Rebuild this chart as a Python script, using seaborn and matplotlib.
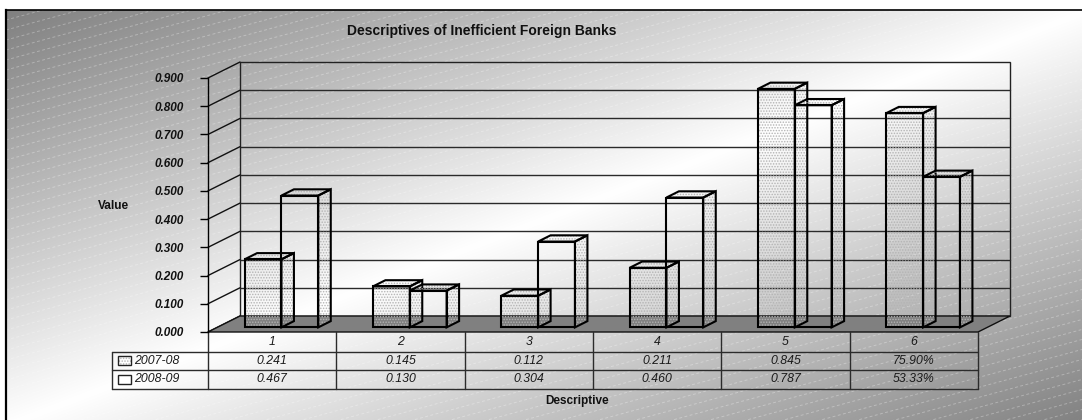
import numpy as np
import pandas as pd
import matplotlib
matplotlib.use("Agg")
import matplotlib.pyplot as plt
import seaborn as sns
from matplotlib.patches import Polygon, Rectangle
from matplotlib.collections import LineCollection
from matplotlib.transforms import ScaledTranslation

# ---- data -------------------------------------------------------------
title = "Descriptives of Inefficient Foreign Banks"
categories = ["1", "2", "3", "4", "5", "6"]
series_names = ["2007-08", "2008-09"]
values_0708 = [0.241, 0.145, 0.112, 0.211, 0.845, 0.759]
values_0809 = [0.467, 0.130, 0.304, 0.460, 0.787, 0.5333]
cell_formats = ["{:.3f}"] * 5 + ["{:.2%}"]
y_ticks = [0.0, 0.1, 0.2, 0.3, 0.4, 0.5, 0.6, 0.7, 0.8, 0.9]
x_label = "Descriptive"
y_label = "Value"

df = pd.DataFrame({
    "Descriptive": categories * 2,
    "Value": values_0708 + values_0809,
    "Year": [series_names[0]] * len(categories) + [series_names[1]] * len(categories),
})

# ---- style ------------------------------------------------------------
sns.set_theme(style="white")
plt.rcParams["font.family"] = ["Liberation Sans", "DejaVu Sans"]
plt.rcParams["hatch.linewidth"] = 0.7

W, H = 1082, 420
fig = plt.figure(figsize=(W / 100, H / 100), dpi=100)

# ---- chart-area background: diagonal grey/white/grey gradient ---------
bg = fig.add_axes([0, 0, 1, 1], zorder=0)
bg.set_xlim(0, W)
bg.set_ylim(H, 0)
bg.axis("off")
cx0, cy0, cx1, cy1 = 6, 10, W + 8, H + 6
xx, yy = np.meshgrid(np.arange(W) + 0.5, np.arange(H) + 0.5)
t = ((xx - cx0) / (cx1 - cx0) + (yy - cy0) / (cy1 - cy0)) / 2
g = 1 - 0.50 * np.abs(2 * t - 1)
g[: cy0, :] = 1
g[:, : cx0] = 1
bg.imshow(np.dstack([g, g, g]), extent=(0, W, H, 0), interpolation="bilinear",
          aspect="auto", zorder=0)

# faint diagonal texture lines
segs = []
for y0 in np.arange(cy0, H + 0.3 * W + 40, 10):
    segs.append([(cx0, y0), (W, y0 - 0.27 * (W - cx0))])
stripes = LineCollection(segs, colors="white", linewidths=0.7, alpha=0.3,
                         linestyles=[(0, (3, 2.5))], zorder=1)
stripes.set_clip_path(Rectangle((cx0, cy0), W, H, transform=bg.transData))
bg.add_collection(stripes)

# chart-area frame
bg.plot([cx0, cx0], [H + 5, cy0], color="black", lw=1.6, zorder=2,
        solid_capstyle="projecting")
bg.plot([cx0, W + 5], [cy0, cy0], color="black", lw=1.2, zorder=2,
        solid_capstyle="projecting")

# ---- plot area (front plane of the 3-D box) ---------------------------
L, R, T, B = 208, 978, 78, 332
ax = fig.add_axes([L / W, 1 - B / H, (R - L) / W, (B - T) / H], zorder=2)
ax.patch.set_alpha(0)

sns.barplot(data=df, x="Descriptive", y="Value", hue="Year",
            hue_order=series_names, order=categories, palette=["white", "white"],
            width=0.574, errorbar=None, legend=False, saturation=1, ax=ax)
ax.set_xlim(-0.5, len(categories) - 0.5)
ax.set_ylim(y_ticks[0], y_ticks[-1])
ax.set_xlabel("")
ax.set_ylabel("")
ax.set_xticks([])
ax.set_yticks(y_ticks)
ax.set_yticklabels([f"{v:.3f}" for v in y_ticks], fontsize=8.5,
                   fontweight="bold", fontstyle="italic")
ax.tick_params(axis="y", left=True, direction="out", length=5.8, width=1,
               color="black", pad=11.5, labelcolor="#111111")
for side in ["top", "right", "bottom"]:
    ax.spines[side].set_visible(False)
ax.spines["left"].set_color("black")
ax.spines["left"].set_linewidth(1.0)

# depth of the 3-D box in display pixels (right, up)
DX, DY = 32, 16
F0, F1 = 0.29, 0.68   # front and back depth of the columns

to_fig = fig.transFigure.inverted()


def px(x, y, depth=0.0):
    """Data point pushed back into the box, in figure fraction."""
    d = ax.transData.transform((x, y)) + np.array([depth * DX, depth * DY])
    return to_fig.transform(d)


def poly(pts, **kw):
    p = Polygon(pts, closed=True, transform=fig.transFigure, clip_on=False, **kw)
    ax.add_patch(p)
    return p


def seg(p0, p1, **kw):
    ax.add_line(plt.Line2D([p0[0], p1[0]], [p0[1], p1[1]],
                           transform=fig.transFigure, clip_on=False, **kw))


xmin, xmax = ax.get_xlim()
ymin, ymax = ax.get_ylim()

# back wall with gridlines
poly([px(xmin, ymin, 1), px(xmax, ymin, 1), px(xmax, ymax, 1), px(xmin, ymax, 1)],
     fill=False, edgecolor="#222222", lw=1.0, zorder=0.5)
for v in y_ticks[1:-1]:
    seg(px(xmin, v, 1), px(xmax, v, 1), color="#2a2a2a", lw=1.0, zorder=0.5)
# side wall lines
for v in y_ticks:
    seg(px(xmin, v, 0), px(xmin, v, 1), color="#111111", lw=1.0, zorder=0.6)

# floor
poly([px(xmin, ymin, 0), px(xmax, ymin, 0), px(xmax, ymin, 1), px(xmin, ymin, 1)],
     facecolor="#808080", edgecolor="#111111", lw=1.0, zorder=0.8)

# columns: seaborn bars become the front faces, side and top are added
shift = ScaledTranslation(F0 * DX / 100, F0 * DY / 100, fig.dpi_scale_trans)
dot_col = "#b4b4b4"
for si, cont in enumerate(ax.containers):
    for bar in cont:
        x, w, h = bar.get_x(), bar.get_width(), bar.get_height()
        bar.set_transform(ax.transData + shift)
        bar.set_clip_on(False)
        bar.set_facecolor("none")
        bar.set_zorder(3 + si)
        if si == 0:
            bar.set_edgecolor(dot_col)
            bar.set_hatch("......")
            bar.set_linewidth(0)
        else:
            bar.set_visible(False)
        outline = Rectangle((x, 0), w, h, transform=ax.transData + shift,
                            fill=False, edgecolor="black", lw=1.5,
                            clip_on=False, zorder=3.5 + si)
        ax.add_patch(outline)
        side = [px(x + w, 0, F0), px(x + w, h, F0), px(x + w, h, F1), px(x + w, 0, F1)]
        top = [px(x, h, F0), px(x + w, h, F0), px(x + w, h, F1), px(x, h, F1)]
        for face in (side, top):
            poly(face, facecolor="none", edgecolor=dot_col, hatch="......",
                 lw=0, zorder=3 + si)
            poly(face, fill=False, edgecolor="black", lw=1.5, zorder=3.5 + si,
                 joinstyle="miter")

# ---- data table under the floor ---------------------------------------
def fy(y_img):
    return 1 - y_img / H


def fxp(x_img):
    return x_img / W


rows = [332, 351.5, 370, 389]
leg_left = 112
tab_col = "#2b2b2b"
x_edges = [px(xmin + k, 0)[0] for k in range(len(categories) + 1)]
for xe in x_edges:
    seg((xe, fy(rows[0])), (xe, fy(rows[-1])), color=tab_col, lw=1.0, zorder=2)
for ry in rows[1:]:
    seg((fxp(leg_left), fy(ry)), (x_edges[-1], fy(ry)), color=tab_col, lw=1.0, zorder=2)
seg((fxp(leg_left), fy(rows[1])), (fxp(leg_left), fy(rows[-1])), color=tab_col,
    lw=1.0, zorder=2)

txt_kw = dict(fontsize=8.8, fontstyle="italic", color="#1a1a1a",
              ha="center", va="center", transform=fig.transFigure)
for k, cat in enumerate(categories):
    xc = px(k, 0)[0]
    fig.text(xc, fy((rows[0] + rows[1]) / 2), cat, **txt_kw)
    fig.text(xc, fy((rows[1] + rows[2]) / 2), cell_formats[k].format(values_0708[k]), **txt_kw)
    fig.text(xc, fy((rows[2] + rows[3]) / 2), cell_formats[k].format(values_0809[k]), **txt_kw)

# legend keys inside the table
for si, name in enumerate(series_names):
    yc = (rows[1 + si] + rows[2 + si]) / 2
    key = Rectangle((fxp(118), fy(yc + 4.5)), 13 / W, 9 / H, transform=fig.transFigure,
                    facecolor="white", edgecolor="none", zorder=2)
    fig.add_artist(key)
    if si == 0:
        fig.add_artist(Rectangle((fxp(118), fy(yc + 4.5)), 13 / W, 9 / H,
                                 transform=fig.transFigure, facecolor="none",
                                 edgecolor=dot_col, hatch="......", lw=0, zorder=2.1))
    fig.add_artist(Rectangle((fxp(118), fy(yc + 4.5)), 13 / W, 9 / H,
                             transform=fig.transFigure, fill=False,
                             edgecolor="#222222", lw=1.0, zorder=2.2))
    fig.text(fxp(134), fy(yc), name, fontsize=8.8, fontstyle="italic",
             color="#1a1a1a", ha="left", va="center")

# ---- titles -----------------------------------------------------------
fig.text(fxp(482), fy(31), title, fontsize=10, fontweight="bold",
         ha="center", va="center", color="#111111")
fig.text(fxp(113), fy(206), y_label, fontsize=8.5, fontweight="bold",
         ha="center", va="center", color="#111111")
fig.text(fxp(577), fy(401), x_label, fontsize=8.5, fontweight="bold",
         ha="center", va="center", color="#111111")

fig.savefig("out.png", dpi=100)
